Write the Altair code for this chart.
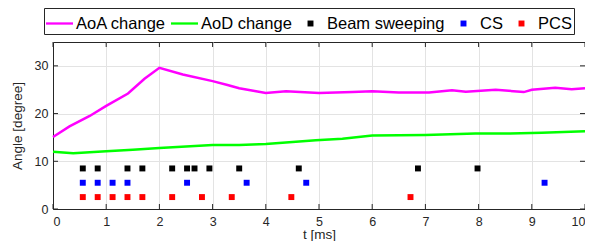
import altair as alt
import pandas as pd

# ---- data ----
aoa_t = [0, 0.31, 0.69, 1.0, 1.41, 1.72, 2.0, 2.44, 3.0, 3.28, 3.5, 4.0, 4.38, 5.0, 5.63, 6.0,
         6.5, 7.07, 7.5, 7.76, 8.32, 8.85, 9.0, 9.44, 9.75, 10]
aoa_v = [15.1, 17.3, 19.5, 21.6, 24.2, 27.3, 29.6, 28.2, 26.8, 26.0, 25.3, 24.3, 24.7, 24.3, 24.5, 24.7,
         24.4, 24.4, 24.9, 24.6, 25.0, 24.5, 25.0, 25.4, 25.1, 25.3]
aod_t = [0, 0.38, 1.0, 1.5, 2.0, 3.0, 3.5, 4.0, 4.44, 4.94, 5.44, 6.0, 7.0, 7.94, 8.57, 9.19, 10]
aod_v = [12.0, 11.7, 12.1, 12.4, 12.8, 13.4, 13.4, 13.6, 14.0, 14.4, 14.7, 15.4, 15.5, 15.8, 15.8, 16.0, 16.3]

beam_t = [0.56, 0.84, 1.40, 1.68, 2.24, 2.52, 2.66, 2.94, 3.50, 4.62, 6.86, 7.98]
beam_v = 8.5
cs_t = [0.56, 0.84, 1.12, 1.40, 2.52, 3.64, 4.76, 9.24]
cs_v = 5.5
pcs_t = [0.56, 0.84, 1.12, 1.40, 1.68, 2.24, 2.80, 3.36, 4.48, 6.72]
pcs_v = 2.5

series_names = ["AoA change", "AoD change", "Beam sweeping", "CS", "PCS"]
series_colors = ["#ff00ff", "#00ff00", "#000000", "#0000ff", "#ff0000"]
x_ticks = list(range(11))
y_ticks = [0, 10, 20, 30]

# ---- tables ----
lines_df = pd.concat([
    pd.DataFrame({"t": aoa_t, "v": aoa_v, "series": series_names[0]}),
    pd.DataFrame({"t": aod_t, "v": aod_v, "series": series_names[1]}),
])
pts_df = pd.concat([
    pd.DataFrame({"t": beam_t, "v": beam_v, "series": series_names[2]}),
    pd.DataFrame({"t": cs_t, "v": cs_v, "series": series_names[3]}),
    pd.DataFrame({"t": pcs_t, "v": pcs_v, "series": series_names[4]}),
])
xt_df = pd.DataFrame({"t": x_ticks})
yt_df = pd.DataFrame({"v": y_ticks})

W, H = 532, 167
INK = "#262626"
LINE_SHAPE = "M-1,-0.085H1V0.085H-1Z"
SQ_SHAPE = "M-0.22,-0.22H0.22V0.22H-0.22Z"
shape_range = [LINE_SHAPE, LINE_SHAPE, SQ_SHAPE, SQ_SHAPE, SQ_SHAPE]

xscale = alt.Scale(domain=[0, 10], nice=False)
yscale = alt.Scale(domain=[0, 35], nice=False)
cscale = alt.Scale(domain=series_names, range=series_colors)
sscale = alt.Scale(domain=series_names, range=shape_range)

x_axis = alt.Axis(values=x_ticks, title="t [ms]", ticks=False, labelPadding=6, titlePadding=0,
                  grid=True, format="d")
y_axis = alt.Axis(values=y_ticks, title="Angle [degree]", ticks=False, labelPadding=5, titlePadding=10,
                  grid=True, format="d")

legend = alt.Legend(orient="none", legendX=-9, legendY=-34, direction="horizontal", columns=5,
                    title=None, symbolSize=729, labelFontSize=16.5, labelFont="Liberation Sans",
                    labelColor="#000000", strokeColor=INK, fillColor="white", padding=2,
                    columnPadding=5, labelOffset=3, symbolStrokeWidth=0, symbolOpacity=1)

lines = alt.Chart(lines_df).mark_line(strokeWidth=2.5).encode(
    x=alt.X("t:Q", scale=xscale, axis=x_axis),
    y=alt.Y("v:Q", scale=yscale, axis=y_axis),
    color=alt.Color("series:N", scale=cscale, legend=legend),
    detail="series:N",
)

points = alt.Chart(pts_df).mark_point(filled=True, size=729, opacity=1, strokeWidth=0).encode(
    x=alt.X("t:Q", scale=xscale),
    y=alt.Y("v:Q", scale=yscale),
    color=alt.Color("series:N", scale=cscale, legend=legend),
    shape=alt.Shape("series:N", scale=sscale, legend=legend),
)

tick_bottom = alt.Chart(xt_df).mark_rule(color=INK, strokeWidth=1).encode(
    x=alt.X("t:Q", scale=xscale), y=alt.value(H), y2=alt.value(H - 5))
tick_top = alt.Chart(xt_df).mark_rule(color=INK, strokeWidth=1).encode(
    x=alt.X("t:Q", scale=xscale), y=alt.value(0), y2=alt.value(5))
tick_left = alt.Chart(yt_df).mark_rule(color=INK, strokeWidth=1).encode(
    y=alt.Y("v:Q", scale=yscale), x=alt.value(0), x2=alt.value(5))
tick_right = alt.Chart(yt_df).mark_rule(color=INK, strokeWidth=1).encode(
    y=alt.Y("v:Q", scale=yscale), x=alt.value(W), x2=alt.value(W - 5))

chart = alt.layer(lines, points, tick_bottom, tick_top, tick_left, tick_right).properties(
    width=W, height=H,
    autosize=alt.AutoSizeParams(type="none"),
    padding={"left": 45, "top": 34, "right": 0, "bottom": 32},
).configure_view(
    stroke=INK, strokeWidth=1
).configure_axis(
    gridColor="#e3e3e3", gridWidth=1, domainColor=INK, domainWidth=1,
    labelFont="Liberation Sans", labelFontSize=12.5, labelColor=INK,
    titleFont="Liberation Sans", titleFontSize=13.5, titleColor=INK, titleFontWeight="normal",
)

chart.save("out.html", embed_options={"renderer": "svg", "actions": False})
